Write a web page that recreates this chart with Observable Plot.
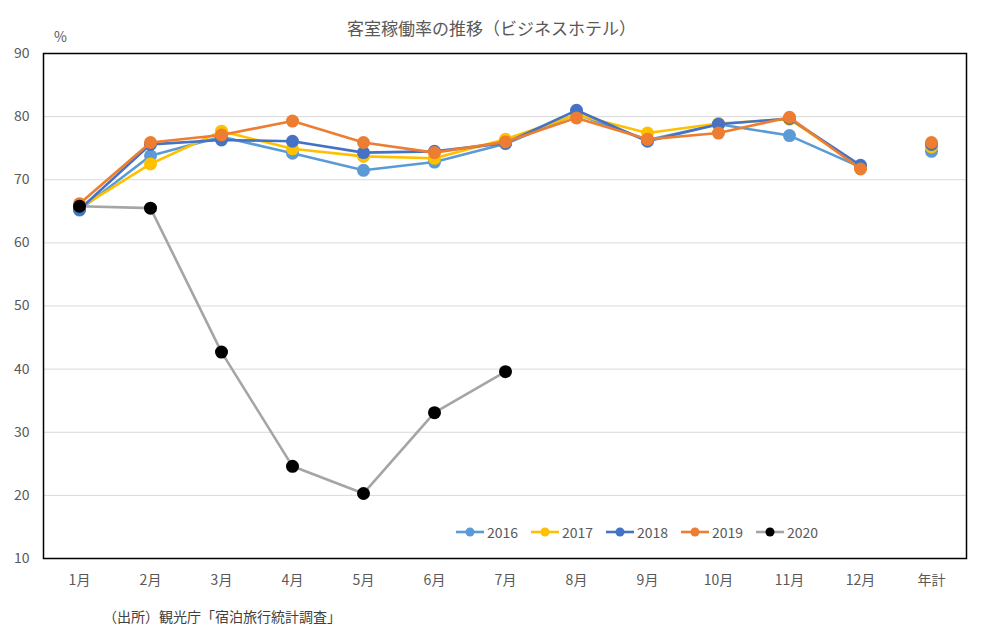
<!DOCTYPE html>
<html><head><meta charset="utf-8">
<script src="https://cdn.jsdelivr.net/npm/d3@7"></script>
<script src="https://cdn.jsdelivr.net/npm/@observablehq/plot@0.6"></script>
<style>
body{margin:0;background:#fff;font-family:"Noto Sans CJK JP",sans-serif;}
#wrap{position:relative;width:983px;height:637px;}
#title{position:absolute;left:0;width:983px;top:15px;text-align:center;font-size:17px;color:#595959;}
#pct{position:absolute;left:54px;top:26px;font-size:14px;color:#595959;}
#cap{position:absolute;left:103px;top:606px;font-size:14px;color:#404040;}
#legend{position:absolute;left:455px;top:522px;display:flex;gap:0;font-size:14px;color:#595959;}
#legend .it{display:flex;align-items:center;width:75px;}
#chart{position:absolute;left:0;top:0;}
</style></head>
<body><div id="wrap"><div id="chart"></div><div id="title"></div><div id="pct">%</div><div id="legend"></div><div id="cap"></div></div>
<script>
const titleText = "客室稼働率の推移（ビジネスホテル）";
const captionText = "（出所）観光庁「宿泊旅行統計調査」";
const categories = ["1月","2月","3月","4月","5月","6月","7月","8月","9月","10月","11月","12月","年計"];
const yTicks = [10,20,30,40,50,60,70,80,90];
const years = ["2016","2017","2018","2019","2020"];
const v2016 = [65.2, 73.8, 76.8, 74.2, 71.5, 72.8, 75.7, 80.4, 76.3, 78.8, 77.0, 72.0, 74.5];
const v2017 = [65.5, 72.5, 77.7, 74.9, 73.7, 73.4, 76.4, 80.3, 77.4, 78.9, 79.6, 72.0, 75.2];
const v2018 = [65.3, 75.6, 76.3, 76.1, 74.3, 74.5, 75.8, 81.0, 76.1, 78.8, 79.7, 72.3, 75.6];
const v2019 = [66.2, 75.9, 77.1, 79.3, 75.9, 74.3, 76.0, 79.8, 76.4, 77.4, 79.9, 71.7, 75.9];
const v2020 = [65.8, 65.5, 42.7, 24.6, 20.3, 33.1, 39.6];
const lineColors = ["#5B9BD5","#FFC000","#4472C4","#ED7D31","#A5A5A5"];
const dotColors  = ["#5B9BD5","#FFC000","#4472C4","#ED7D31","#000000"];

const seriesVals = [v2016, v2017, v2018, v2019, v2020];
const marks = [
  Plot.gridY(yTicks.filter(t => t > 10 && t < 90), {stroke:"#d9d9d9", strokeOpacity:1, strokeWidth:1}),
  Plot.frame({stroke:"#000", strokeWidth:1.5})
];
seriesVals.forEach((vals, i) => {
  const rows = vals.map((v, j) => ({month: categories[j], value: v, year: years[i]}));
  const lineRows = rows.filter(r => r.month !== "年計");
  marks.push(Plot.line(lineRows, {x:"month", y:"value", stroke: lineColors[i], strokeWidth: 2.6}));
  marks.push(Plot.dot(rows, {x:"month", y:"value", r:6.5, fill: dotColors[i], stroke:"none"}));
});

const chart = Plot.plot({
  width: 983, height: 637,
  marginLeft: 43, marginRight: 17, marginTop: 53, marginBottom: 79,
  style: {fontFamily: '"Noto Sans CJK JP", sans-serif', fontSize: "14px", color: "#595959", background: "#fff"},
  x: {type: "point", domain: categories, padding: 0.5, label: null, tickSize: 0, tickPadding: 17},
  y: {domain: [10, 90], ticks: yTicks, label: null, tickSize: 0, tickPadding: 14},
  marks
});
document.getElementById("chart").appendChild(chart);
document.getElementById("title").textContent = titleText;
document.getElementById("cap").textContent = captionText;

const leg = document.getElementById("legend");
years.forEach((y, i) => {
  const it = document.createElement("div");
  it.className = "it";
  it.innerHTML = `<svg width="30" height="12" style="margin-right:2px"><line x1="1" x2="29" y1="6" y2="6" stroke="${lineColors[i]}" stroke-width="2.6"/><circle cx="15" cy="6" r="4.5" fill="${dotColors[i]}"/></svg><span>${y}</span>`;
  leg.appendChild(it);
});
</script></body></html>
